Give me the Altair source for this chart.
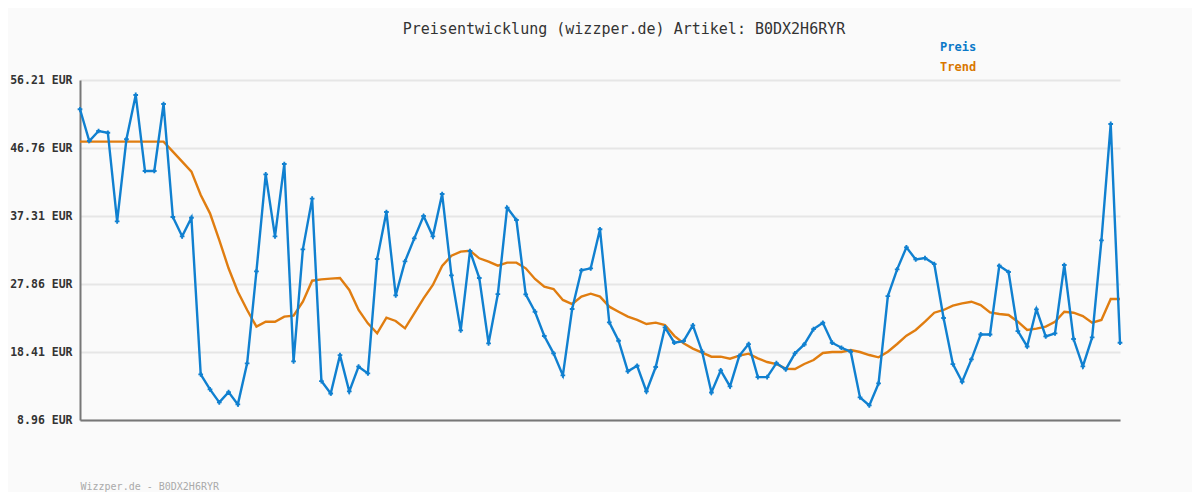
import altair as alt
import pandas as pd

preis = [52.14, 47.73, 49.12, 48.88, 36.57, 47.97, 54.13, 43.56, 43.56, 52.87,
         37.17, 34.48, 37.07, 15.30, 13.21, 11.41, 12.84, 11.13, 16.83, 29.62,
         43.10, 34.48, 44.53, 17.11, 32.67, 39.72, 14.37, 12.65, 17.98, 12.93,
         16.37, 15.44, 31.33, 37.86, 26.28, 31.00, 34.20, 37.31, 34.48, 40.36,
         29.06, 21.42, 32.44, 28.69, 19.61, 26.46, 38.46, 36.75, 26.42, 24.01,
         20.63, 18.22, 15.16, 24.38, 29.76, 30.04, 35.46, 22.53, 19.98, 15.72,
         16.50, 12.93, 16.32, 21.84, 19.70, 19.93, 22.11, 18.45, 12.79, 15.85,
         13.63, 17.88, 19.51, 14.92, 14.92, 16.87, 15.99, 18.22, 19.46, 21.59,
         22.47, 19.70, 19.00, 18.45, 12.10, 10.99, 14.05, 26.18, 29.90, 32.95,
         31.28, 31.46, 30.63, 23.13, 16.73, 14.27, 17.38, 20.85, 20.85, 30.40,
         29.52, 21.31, 19.18, 24.34, 20.58, 21.00, 30.50, 20.21, 16.42, 20.44,
         33.92, 50.10, 19.70]

trend = [47.64, 47.64, 47.64, 47.64, 47.64, 47.64, 47.64, 47.64, 47.64, 47.64,
         46.25, 44.86, 43.47, 40.23, 37.68, 33.97, 30.04, 26.79, 24.25, 21.93,
         22.62, 22.62, 23.32, 23.46, 25.40, 28.32, 28.51, 28.60, 28.69, 27.03,
         24.25, 22.39, 21.00, 23.18, 22.72, 21.70, 23.79, 25.87, 27.72, 30.36,
         31.80, 32.36, 32.49, 31.43, 30.97, 30.41, 30.83, 30.83, 30.04, 28.56,
         27.49, 27.17, 25.64, 25.08, 26.10, 26.52, 26.10, 24.71, 24.01, 23.32,
         22.86, 22.30, 22.49, 22.16, 20.65, 19.62, 18.88, 18.31, 17.76, 17.76,
         17.48, 17.90, 18.18, 17.53, 17.02, 16.74, 16.09, 16.05, 16.74, 17.30,
         18.27, 18.41, 18.41, 18.69, 18.41, 17.99, 17.67, 18.45, 19.52, 20.68,
         21.47, 22.62, 23.87, 24.25, 24.85, 25.17, 25.40, 24.94, 23.92, 23.69,
         23.55, 22.62, 21.47, 21.65, 21.93, 22.62, 24.01, 23.87, 23.41, 22.49,
         22.86, 25.77, 25.77]

y_ticks = [8.96, 18.41, 27.86, 37.31, 46.76, 56.21]
series = ["Preis", "Trend"]
colors = ["#1080d0", "#e07d10"]
label_colors = ["#0a78c8", "#d97700"]

n = len(preis)
idx = list(range(n))
df = pd.DataFrame({
    "i": idx + idx,
    "wert": preis + trend,
    "serie": ["Preis"] * n + ["Trend"] * n,
})

MONO = "DejaVu Sans Mono"

x = alt.X(
    "i:Q",
    scale=alt.Scale(domain=[0, n - 1], nice=False, zero=False),
    axis=alt.Axis(
        title="Wizzper.de - B0DX2H6RYR",
        labels=False, ticks=False, grid=False,
        domainColor="#777777", domainWidth=2,
        titleAnchor="start", titleAlign="left",
        titleFont=MONO, titleFontSize=10, titleFontWeight="normal",
        titleColor="#aaaaaa", titlePadding=61,
    ),
)
y = alt.Y(
    "wert:Q",
    scale=alt.Scale(domain=[y_ticks[0], y_ticks[-1]], nice=False, zero=False),
    axis=alt.Axis(
        title=None, values=y_ticks,
        labelExpr="format(datum.value, '.2f') + ' EUR'",
        labelFont=MONO, labelFontSize=11.5, labelFontWeight="bold",
        labelColor="#333333", labelPadding=8, ticks=False,
        domainColor="#777777", domainWidth=2,
        gridColor="#e6e6e6", gridWidth=2,
    ),
)
color = alt.Color(
    "serie:N",
    scale=alt.Scale(domain=series, range=colors),
    legend=alt.Legend(
        title=None, orient="none", legendX=848, legendY=-39,
        symbolSize=0, symbolOpacity=0, symbolStrokeWidth=0, labelOffset=0,
        labelFont=MONO, labelFontSize=12, labelFontWeight="bold",
        rowPadding=8,
        labelColor=alt.ExprRef(
            "datum.value === 'Preis' ? '%s' : '%s'" % (label_colors[0], label_colors[1])
        ),
    ),
)

base = alt.Chart(df)
lines = base.mark_line(strokeWidth=2.4).encode(x=x, y=y, color=color, detail="serie:N")
points = base.transform_filter(alt.datum.serie == "Preis").mark_point(
    shape="cross", size=22, filled=True, opacity=1
).encode(x=x, y=y, color=color)

chart = (
    alt.layer(lines.transform_filter(alt.datum.serie == "Trend"),
              lines.transform_filter(alt.datum.serie == "Preis"),
              points)
    .properties(
        width=1040, height=340,
        title=alt.TitleParams(
            "Preisentwicklung (wizzper.de) Artikel: B0DX2H6RYR",
            font=MONO, fontSize=15, fontWeight="normal", color="#333333",
            anchor="middle", dx=24, offset=4,
        ),
        autosize=alt.AutoSizeParams(type="none"),
        padding={"left": 72, "top": 72, "right": 72, "bottom": 72},
        background="#fafafa",
    )
    .configure_view(stroke=None)
)

chart.save("out.html", embed_options={"renderer": "svg", "actions": False})
